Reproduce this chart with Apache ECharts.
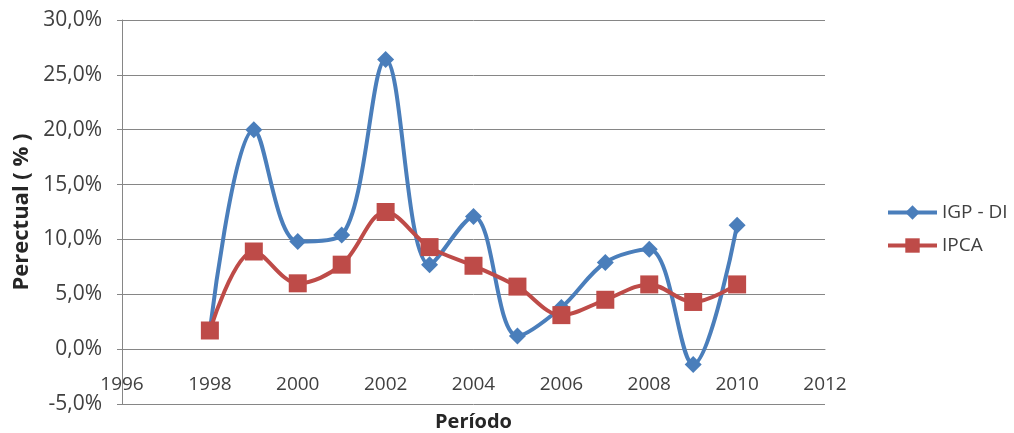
<!DOCTYPE html>
<html><head><meta charset="utf-8">
<script src="https://cdn.jsdelivr.net/npm/echarts@6/dist/echarts.min.js"></script>
<style>html,body{margin:0;padding:0;background:#fff}#c{width:1014px;height:433px}</style>
</head><body><div id="c"></div>
<script>
const years = [1998,1999,2000,2001,2002,2003,2004,2005,2006,2007,2008,2009,2010];
const igpdi = [1.7,20.0,9.8,10.4,26.4,7.7,12.1,1.2,3.8,7.9,9.1,-1.4,11.3];
const ipca  = [1.7,8.9,6.0,7.7,12.5,9.3,7.6,5.7,3.1,4.5,5.9,4.3,5.9];
const seriesNames = ['IGP - DI','IPCA'];
const FONT = 'Open Sans';
const chart = echarts.init(document.getElementById('c'));
chart.setOption({
  animation:false,
  textStyle:{fontFamily:FONT},
  grid:{left:122,right:189,top:20,bottom:29,outerBoundsMode:'none',containLabel:false},
  legend:{
    orient:'vertical', left:881, top:198, itemGap:14, itemWidth:49, itemHeight:18,
    lineStyle:{width:4},
    textStyle:{fontFamily:FONT,fontSize:19,color:'#404040'},
    data:seriesNames
  },
  xAxis:{
    type:'value', min:1996, max:2012, interval:2,
    name:'Período', nameLocation:'middle', nameGap:8,
    nameTextStyle:{fontFamily:FONT,fontSize:20,fontWeight:'bold',color:'#262626'},
    axisLine:{show:true,lineStyle:{color:'#868686',width:1}},
    axisTick:{show:false}, splitLine:{show:false},
    axisLabel:{inside:true,fontFamily:FONT,fontSize:19,color:'#404040',margin:10,formatter:v=>String(v)}
  },
  yAxis:{
    type:'value', min:-5, max:30, interval:5,
    name:'Perectual ( % )', nameLocation:'middle', nameGap:88, nameRotate:90,
    nameTextStyle:{fontFamily:FONT,fontSize:22,fontWeight:'bold',color:'#262626'},
    axisLine:{show:true,lineStyle:{color:'#868686',width:1}},
    axisTick:{show:true,inside:false,length:5,lineStyle:{color:'#868686'}},
    splitLine:{show:true,lineStyle:{color:'#868686',width:1}},
    axisLabel:{fontFamily:FONT,fontSize:21,color:'#404040',margin:20,
      formatter:v=>v.toFixed(1).replace('.',',')+'%'}
  },
  series:[
    {name:seriesNames[0],type:'line',smooth:0.35,symbol:'diamond',symbolSize:17,
     data:years.map((y,i)=>[y,igpdi[i]]),
     lineStyle:{color:'#4A7EBB',width:4},itemStyle:{color:'#4A7EBB'},z:2},
    {name:seriesNames[1],type:'line',smooth:0.35,symbol:'rect',symbolSize:18,
     data:years.map((y,i)=>[y,ipca[i]]),
     lineStyle:{color:'#BE4B48',width:4},itemStyle:{color:'#BE4B48'},z:3}
  ]
});
</script></body></html>
